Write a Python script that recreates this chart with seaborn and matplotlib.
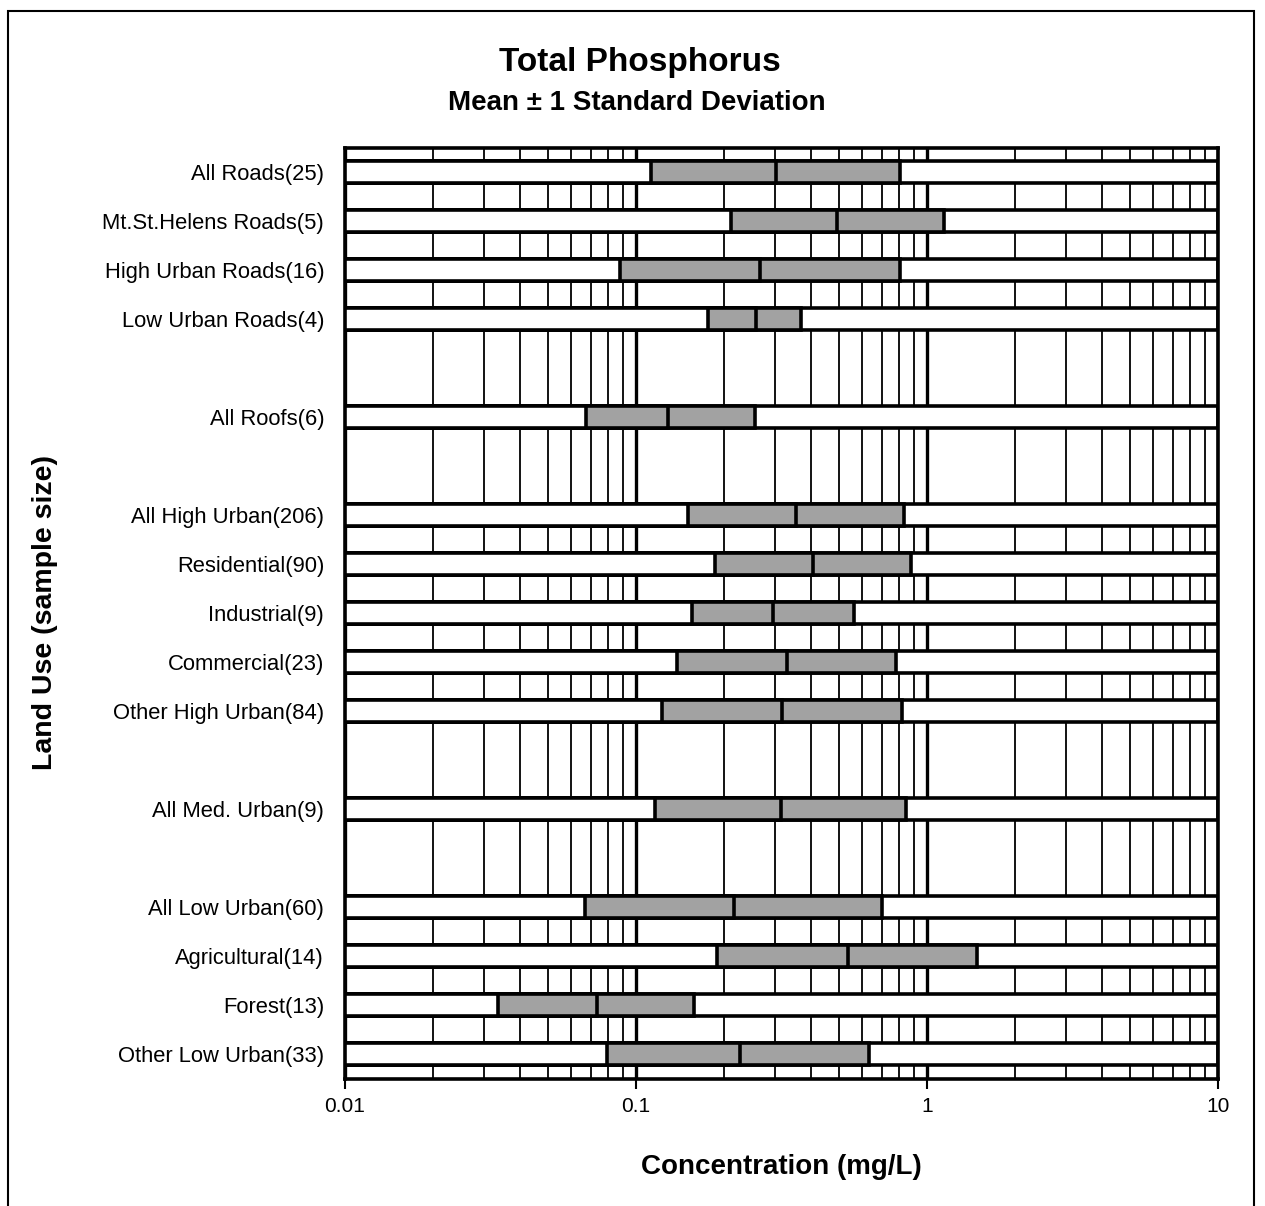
import numpy as np
import pandas as pd
import matplotlib
matplotlib.use("Agg")
import matplotlib.pyplot as plt
from matplotlib.ticker import LogLocator, NullFormatter, FixedLocator, FixedFormatter
from matplotlib.patches import Rectangle
import seaborn as sns

# ---------------- data ----------------
land_use = ["All Roads(25)", "Mt.St.Helens Roads(5)", "High Urban Roads(16)",
            "Low Urban Roads(4)", "All Roofs(6)", "All High Urban(206)",
            "Residential(90)", "Industrial(9)", "Commercial(23)",
            "Other High Urban(84)", "All Med. Urban(9)", "All Low Urban(60)",
            "Agricultural(14)", "Forest(13)", "Other Low Urban(33)"]
low = [0.1126, 0.212, 0.0881, 0.177, 0.0673, 0.151, 0.187, 0.156, 0.138,
       0.123, 0.116, 0.0668, 0.190, 0.0336, 0.0794]
mean = [0.303, 0.491, 0.267, 0.258, 0.129, 0.355, 0.405, 0.296, 0.330,
        0.318, 0.315, 0.217, 0.535, 0.0734, 0.228]
high = [0.807, 1.143, 0.807, 0.369, 0.256, 0.834, 0.881, 0.561, 0.782,
        0.820, 0.847, 0.700, 1.486, 0.158, 0.632]

# row order with blank separator rows between groups
row_order = ["All Roads(25)", "Mt.St.Helens Roads(5)", "High Urban Roads(16)",
             "Low Urban Roads(4)", " ", "All Roofs(6)", "  ",
             "All High Urban(206)", "Residential(90)", "Industrial(9)",
             "Commercial(23)", "Other High Urban(84)", "   ",
             "All Med. Urban(9)", "    ", "All Low Urban(60)",
             "Agricultural(14)", "Forest(13)", "Other Low Urban(33)"]

x_ticks = [0.01, 0.1, 1, 10]
x_tick_labels = ["0.01", "0.1", "1", "10"]
x_min, x_max = 0.01, 10

title = "Total Phosphorus"
subtitle = "Mean \u00b1 1 Standard Deviation"
xlabel = "Concentration (mg/L)"
ylabel = "Land Use (sample size)"

df = pd.DataFrame({"land_use": land_use, "low": low, "mean": mean, "high": high})
df["full"] = x_max

# ---------------- style ----------------
sns.set_theme(style="white")
plt.rcParams["font.family"] = ["Liberation Sans", "DejaVu Sans"]

W, H = 1265, 1206
fig = plt.figure(figsize=(W / 100, H / 100), dpi=100)
ax = fig.add_axes([345 / W, 1 - 1078.5 / H, (1218 - 345) / W, (1078.5 - 147.5) / H])

bar_h = 0.46
edge_lw = 2.6
gray = "#a2a2a2"

common = dict(data=df, y="land_use", order=row_order, orient="h", width=bar_h,
              edgecolor="black", linewidth=edge_lw, errorbar=None,
              saturation=1, log_scale=(True, False), ax=ax)

sns.barplot(x="full", color="white", **common)
sns.barplot(x="high", color=gray, **common)
sns.barplot(x="mean", color=gray, **common)
sns.barplot(x="low", color="white", **common)

ax.set_xscale("log")
ax.set_xlim(x_min, x_max)
ax.set_ylim(len(row_order) - 0.5, -0.5)

ax.xaxis.set_major_locator(FixedLocator(x_ticks))
ax.xaxis.set_major_formatter(FixedFormatter(x_tick_labels))
ax.xaxis.set_minor_locator(LogLocator(base=10, subs=np.arange(2, 10)))
ax.xaxis.set_minor_formatter(NullFormatter())

ax.set_axisbelow(True)
ax.grid(True, axis="x", which="major", color="black", linewidth=2.4)
ax.grid(True, axis="x", which="minor", color="black", linewidth=1.3)
ax.grid(False, axis="y")

for s in ax.spines.values():
    s.set_visible(True)
    s.set_color("black")
    s.set_linewidth(2.6)

ax.tick_params(axis="x", which="major", bottom=True, length=7, width=1.5,
               direction="out", pad=6, labelsize=15, colors="black")
ax.tick_params(axis="x", which="minor", length=0)
ax.tick_params(axis="y", length=0, pad=15, labelsize=15.8, labelcolor="black")

ax.set_xlabel(xlabel, fontsize=20, fontweight="bold", color="black")
ax.xaxis.set_label_coords(0.5, (1078.5 - 1167) / 931.0)
ax.xaxis.label.set_va("center")
ax.set_ylabel(ylabel, fontsize=20.5, fontweight="bold", color="black")
ax.yaxis.set_label_coords((45 - 345) / 873.0, 0.5)
ax.yaxis.label.set_va("center")

fig.text(640 / W, 1 - 62 / H, title, ha="center", va="center",
         fontsize=24, fontweight="bold", color="black")
fig.text(637 / W, 1 - 103 / H, subtitle, ha="center", va="center",
         fontsize=20, fontweight="bold", color="black")

# outer frame
fig.add_artist(Rectangle((8 / W, -0.02), (1254 - 8) / W, 1.02 - 11 / H,
                         transform=fig.transFigure, fill=False,
                         edgecolor="black", linewidth=1.5))

fig.savefig("out.png", dpi=100, facecolor="white")
